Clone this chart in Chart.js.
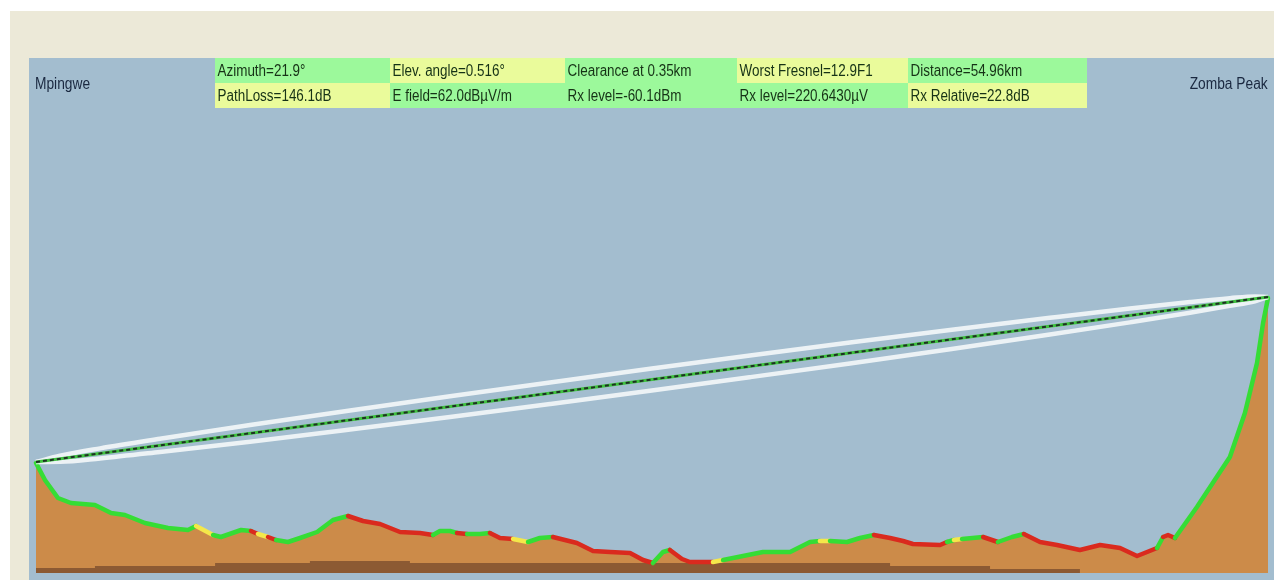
<!DOCTYPE html>
<html>
<head>
<meta charset="utf-8">
<title>Mpingwe – Zomba Peak radio link profile</title>
<script src="https://cdn.jsdelivr.net/npm/chart.js@4.4.1/dist/chart.umd.min.js"></script>
<style>
  html, body { margin: 0; padding: 0; background: #ffffff; width: 1274px; height: 580px; overflow: hidden; }
  body { position: relative; font-family: "Liberation Sans", Arial, sans-serif; }
  #frame { position: absolute; left: 10px; top: 11px; width: 1264px; height: 569px; background: #ECE9D8; }
  #panel { position: absolute; left: 29px; top: 58px; width: 1245px; height: 522px; background: #A3BDCF; }
  #panel canvas { position: absolute; left: 0; top: 0; }
  .cell { position: absolute; height: 25px; line-height: 25px; color: #163216; font-size: 16px; white-space: nowrap; overflow: visible; }
  .cell span { display: inline-block; transform: scaleX(0.84); transform-origin: 0 50%; padding-left: 3px; }
  .site { position: absolute; top: 71px; color: #1a2840; font-size: 16px; line-height: 25px; white-space: nowrap; }
  .site span { display: inline-block; transform: scaleX(0.86); }
  #siteA { left: 35px; }
  #siteA span { transform-origin: 0 50%; }
  #siteB { right: 6px; }
  #siteB span { transform-origin: 100% 50%; }
</style>
</head>
<body>
<div id="frame"></div>
<div id="panel"><canvas id="profile" width="1245" height="522"></canvas></div>
<div id="siteA" class="site"><span>Mpingwe</span></div>
<div id="siteB" class="site"><span>Zomba Peak</span></div>
<div id="summary"></div>

<script>
// ---- Link summary ----
const siteNames = ["Mpingwe", "Zomba Peak"];
const summaryTop = ["Azimuth=21.9°", "Elev. angle=0.516°", "Clearance at 0.35km", "Worst Fresnel=12.9F1", "Distance=54.96km"];
const summaryBottom = ["PathLoss=146.1dB", "E field=62.0dBµV/m", "Rx level=-60.1dBm", "Rx level=220.6430µV", "Rx Relative=22.8dB"];
const summaryTopShade = ["G", "Y", "G", "Y", "G"];
const summaryBottomShade = ["Y", "G", "G", "G", "Y"];

// ---- Terrain profile (distance from Mpingwe in km, ground elevation in m) ----
const distKm = [
  0.00, 0.40, 0.98, 1.56, 2.63, 3.35, 3.97, 4.86, 5.89, 6.78,
  7.14, 7.90, 8.25, 9.15, 9.59, 9.90, 10.35, 10.71, 11.24, 11.78,
  12.54, 13.25, 13.92, 14.59, 15.35, 16.24, 17.13, 17.71, 18.02, 18.47,
  18.78, 19.23, 19.81, 20.25, 20.70, 21.28, 21.95, 22.48, 23.06, 24.13,
  24.85, 25.61, 26.50, 27.08, 27.52, 27.97, 28.28, 28.82, 29.17, 30.20,
  30.65, 31.54, 32.43, 33.64, 34.53, 34.97, 35.42, 36.18, 36.76, 37.38,
  38.10, 38.68, 39.12, 40.33, 40.64, 40.95, 41.31, 42.25, 42.91, 43.54,
  44.07, 44.79, 45.55, 46.57, 47.47, 48.36, 49.12, 50.01, 50.28, 50.50,
  50.81, 51.79, 53.26, 53.93, 54.47, 54.74, 54.96
];
const elevM = [
  1250, 1165, 1075, 1050, 1040, 1000, 990, 950, 925, 915,
  935, 890, 880, 915, 910, 895, 880, 865, 855, 875,
  905, 965, 985, 960, 945, 905, 900, 890, 910, 910,
  900, 895, 895, 900, 875, 870, 855, 875, 880, 850,
  810, 805, 800, 765, 750, 805, 815, 770, 755, 755,
  765, 785, 805, 805, 855, 860, 860, 855, 875, 890,
  875, 860, 845, 840, 855, 865, 870, 880, 855, 880,
  895, 855, 840, 815, 840, 825, 785, 825, 880, 890,
  875, 1030, 1280, 1500, 1750, 1950, 2075
];
// Clearance class of the stretch starting at each sample: G = clear, Y = marginal, R = obstructed
const clearance = [
  "G","G","G","G","G","G","G","G","G","G",
  "Y","G","G","G","R","Y","R","G","G","G",
  "G","G","R","R","R","R","R","G","G","G",
  "R","G","G","R","R","Y","G","G","R","R",
  "R","R","R","R","G","G","R","R","R","Y",
  "G","G","G","G","G","Y","G","G","G","R",
  "R","R","R","R","G","Y","G","R","G","G",
  "R","R","R","R","R","R","R","G","R","R",
  "G","G","G","G","G","G","G"
];

// ---- Earth bulge band at the foot of the profile ----
const bulgeKm = [0.00, 2.63, 7.99, 12.22, 16.68, 38.10, 42.56, 46.57, 52.06, 54.96];
const bulgeM  = [710, 725, 735, 750, 760, 750, 735, 720, 700, 700];

// ---- Line of sight between the antennas ----
const losKm = [0.00, 54.96];
const losM  = [1255, 2080];

// ---- First Fresnel zone boundaries ----
const fresnelKm    = [0.00, 1.07, 2.86, 5.53, 9.55, 14.01, 18.47, 22.93, 27.39, 31.85, 36.31, 40.77, 45.23, 48.80, 51.48, 53.26, 54.38, 54.96];
const fresnelUpper = [1255, 1286, 1323, 1371, 1440, 1513, 1584, 1653, 1721, 1787, 1852, 1915, 1976, 2023, 2055, 2074, 2083, 2080];
const fresnelLower = [1255, 1256, 1273, 1305, 1356, 1417, 1480, 1545, 1611, 1679, 1748, 1819, 1892, 1953, 2001, 2036, 2059, 2080];

const baseElevation = 700;

// ---- Summary table ----
const shadeColor = { G: "#9CF99B", Y: "#EAFB9B" };
const colLeft = [215, 390, 565, 737, 908, 1087];
const summary = document.getElementById("summary");
[[summaryTop, summaryTopShade, 58], [summaryBottom, summaryBottomShade, 83]].forEach(([texts, shades, top]) => {
  texts.forEach((t, i) => {
    const c = document.createElement("div");
    c.className = "cell";
    c.style.left = colLeft[i] + "px";
    c.style.top = top + "px";
    c.style.width = (colLeft[i + 1] - colLeft[i]) + "px";
    c.style.background = shadeColor[shades[i]];
    const s = document.createElement("span");
    s.textContent = t;
    c.appendChild(s);
    summary.appendChild(c);
  });
});
document.querySelector("#siteA span").textContent = siteNames[0];
document.querySelector("#siteB span").textContent = siteNames[1];

// ---- Chart ----
const pts = (xs, ys) => xs.map((x, i) => ({ x, y: ys[i] }));
const clearColor = { G: "#35DD35", Y: "#F4E84A", R: "#DA2A1E" };
const profile = pts(distKm, elevM);
const fresnelStyle = { order: 3, borderWidth: 4.5, pointRadius: 0, borderColor: "rgba(246,249,251,0.88)", fill: false, cubicInterpolationMode: "monotone" };

new Chart(document.getElementById("profile"), {
  type: "line",
  data: {
    datasets: [
      { // ground fill
        data: profile, order: 6, borderWidth: 0, pointRadius: 0,
        backgroundColor: "#CC8B49", fill: { value: baseElevation }, tension: 0
      },
      { // earth bulge
        data: pts(bulgeKm, bulgeM), order: 5, borderWidth: 0, pointRadius: 0, stepped: "after",
        backgroundColor: "#8C5A33", fill: { value: baseElevation }
      },
      { // profile edge coloured by clearance
        data: profile, order: 4, borderWidth: 4.5, pointRadius: 0, fill: false,
        borderJoinStyle: "round", borderCapStyle: "round",
        borderColor: clearColor.G,
        segment: { borderColor: ctx => clearColor[clearance[ctx.p0DataIndex]] }
      },
      { data: pts(fresnelKm, fresnelUpper), ...fresnelStyle }, // upper Fresnel boundary
      { data: pts(fresnelKm, fresnelLower), ...fresnelStyle }, // lower Fresnel boundary
      { // line of sight
        data: pts(losKm, losM), order: 2, borderWidth: 3, pointRadius: 0,
        borderColor: "#3FC23F", fill: false
      },
      { // line of sight dashes
        data: pts(losKm, losM), order: 1, borderWidth: 2, pointRadius: 0,
        borderColor: "#1f2f24", borderDash: [4, 3], fill: false
      }
    ]
  },
  options: {
    responsive: false,
    animation: false,
    layout: { padding: 0 },
    scales: {
      x: { type: "linear", display: false, min: -0.312, max: 55.228 },
      y: { type: "linear", display: false, min: 665, max: 3275 }
    },
    plugins: { legend: { display: false }, tooltip: { enabled: false } },
    elements: { line: { tension: 0 } }
  }
});
</script>
</body>
</html>
